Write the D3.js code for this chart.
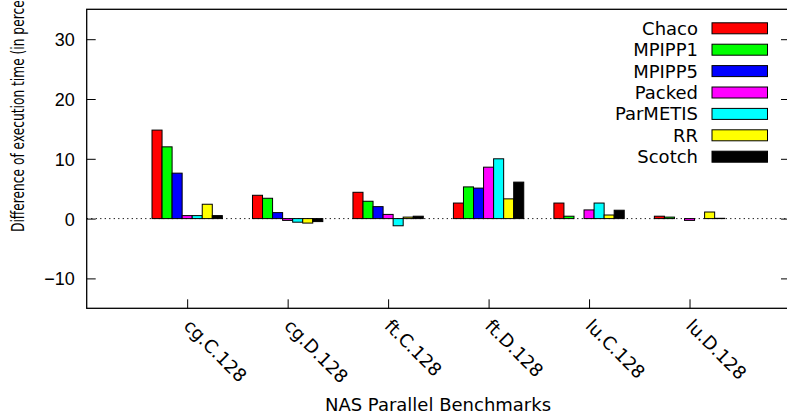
<!DOCTYPE html>
<html>
<head>
<meta charset="utf-8">
<script src="https://cdn.jsdelivr.net/npm/d3@7"></script>
<style>
  body { margin: 0; background: #fff; }
  svg { display: block; font-family: "DejaVu Sans", sans-serif; }
  .axis text { font-size: 18px; fill: #000; }
  .axis line { stroke: #000; }
</style>
</head>
<body>
<svg></svg>
<script>
const categories = ["cg.C.128", "cg.D.128", "ft.C.128", "ft.D.128", "lu.C.128", "lu.D.128"];
const seriesNames = ["Chaco", "MPIPP1", "MPIPP5", "Packed", "ParMETIS", "RR", "Scotch"];
const seriesColors = ["#ff0000", "#00ff00", "#0000ff", "#ff00ff", "#00ffff", "#ffff00", "#000000"];

const chaco    = [14.8,  3.9,  4.4,  2.6, 2.6,  0.4];
const mpipp1   = [12.0,  3.4,  2.9,  5.3, 0.4,  0.25];
const mpipp5   = [ 7.6,  1.0,  2.0,  5.1, 0.0,  0.0];
const packed   = [ 0.5, -0.3,  0.7,  8.6, 1.45, -0.3];
const parmetis = [ 0.5, -0.6, -1.2, 10.0, 2.6,  0.0];
const rr       = [ 2.4, -0.75, 0.25, 3.3, 0.6,  1.1];
const scotch   = [ 0.5, -0.5,  0.4,  6.1, 1.4,  0.05];
const seriesValues = [chaco, mpipp1, mpipp5, packed, parmetis, rr, scotch];

const yTicks = [-10, 0, 10, 20, 30];

const width = 787;
const height = 416;
const plotLeft = 86.7, plotRight = 790, plotTop = 9.3, plotBottom = 308.3;
const barWidth = 0.1;

const svg = d3.select("svg")
              .attr("width", width)
              .attr("height", height);

const x = d3.scaleLinear().domain([-1, 6]).range([plotLeft, plotRight]);
const y = d3.scaleLinear().domain([-15, 35]).range([plotBottom, plotTop]);

// zero line
svg.append("line")
    .attr("x1", plotLeft).attr("x2", plotRight)
    .attr("y1", y(0)).attr("y2", y(0))
    .attr("stroke", "#000")
    .attr("stroke-width", 1)
    .attr("stroke-dasharray", "1.2,3.3");

// bars
seriesValues.forEach(function(vals, s) {
  svg.append("g").selectAll("rect")
      .data(vals)
      .enter()
      .append("rect")
        .attr("x", function(d, i) { return x(i + (s - 3.5) * barWidth); })
        .attr("width", x(barWidth) - x(0))
        .attr("y", function(d) { return y(Math.max(d, 0)); })
        .attr("height", function(d) { return Math.abs(y(d) - y(0)); })
        .attr("fill", seriesColors[s])
        .attr("stroke", "#000")
        .attr("stroke-width", 1);
});

// y axis (left) and mirrored ticks (right)
const yAxis = svg.append("g")
    .attr("class", "axis")
    .attr("transform", "translate(" + plotLeft + ",0)")
    .call(d3.axisLeft(y).tickValues(yTicks).tickSizeInner(-9).tickSizeOuter(0).tickPadding(12)
          .tickFormat(d3.format("d")));
yAxis.select(".domain").remove();
yAxis.selectAll("text").attr("dy", "0.36em");

const yRight = svg.append("g")
    .attr("class", "axis")
    .attr("transform", "translate(" + plotRight + ",0)")
    .call(d3.axisRight(y).tickValues(yTicks).tickSizeInner(-9).tickSizeOuter(0).tickFormat(""));
yRight.select(".domain").remove();

// x axis ticks
const xAxis = svg.append("g")
    .attr("class", "axis")
    .attr("transform", "translate(0," + plotBottom + ")")
    .call(d3.axisBottom(x).tickValues(d3.range(categories.length)).tickSizeInner(-9).tickSizeOuter(0)
          .tickFormat(""));
xAxis.select(".domain").remove();

svg.append("g").selectAll("text")
    .data(categories)
    .enter()
    .append("text")
      .attr("transform", function(d, i) { return "translate(" + (x(i) - 4.5) + ",327) rotate(45)"; })
      .style("font-size", "18px")
      .text(function(d) { return d; });

// border
svg.append("rect")
    .attr("x", plotLeft).attr("y", plotTop)
    .attr("width", plotRight - plotLeft).attr("height", plotBottom - plotTop)
    .attr("fill", "none")
    .attr("stroke", "#000")
    .attr("stroke-width", 1.3);

// axis labels
svg.append("text")
    .attr("x", 438).attr("y", 411)
    .attr("text-anchor", "middle")
    .style("font-size", "18px")
    .text("NAS Parallel Benchmarks");

// the rotated label is squeezed along its run in the original, and runs off the top
svg.append("text")
    .attr("transform", "translate(24,232) rotate(-90) scale(0.68,1)")
    .style("font-size", "18px")
    .text("Difference of execution time (in percent)");

// legend
const legend = svg.append("g").selectAll("g")
    .data(seriesNames)
    .enter()
    .append("g")
      .attr("transform", function(d, i) { return "translate(0," + (28.3 + i * 21.4) + ")"; });

legend.append("text")
    .attr("x", 698)
    .attr("dy", "0.36em")
    .attr("text-anchor", "end")
    .style("font-size", "18px")
    .text(function(d) { return d; });

legend.append("rect")
    .attr("x", 712).attr("y", -5.5)
    .attr("width", 55.5).attr("height", 11)
    .attr("fill", function(d, i) { return seriesColors[i]; })
    .attr("stroke", "#000")
    .attr("stroke-width", 1);
</script>
</body>
</html>
